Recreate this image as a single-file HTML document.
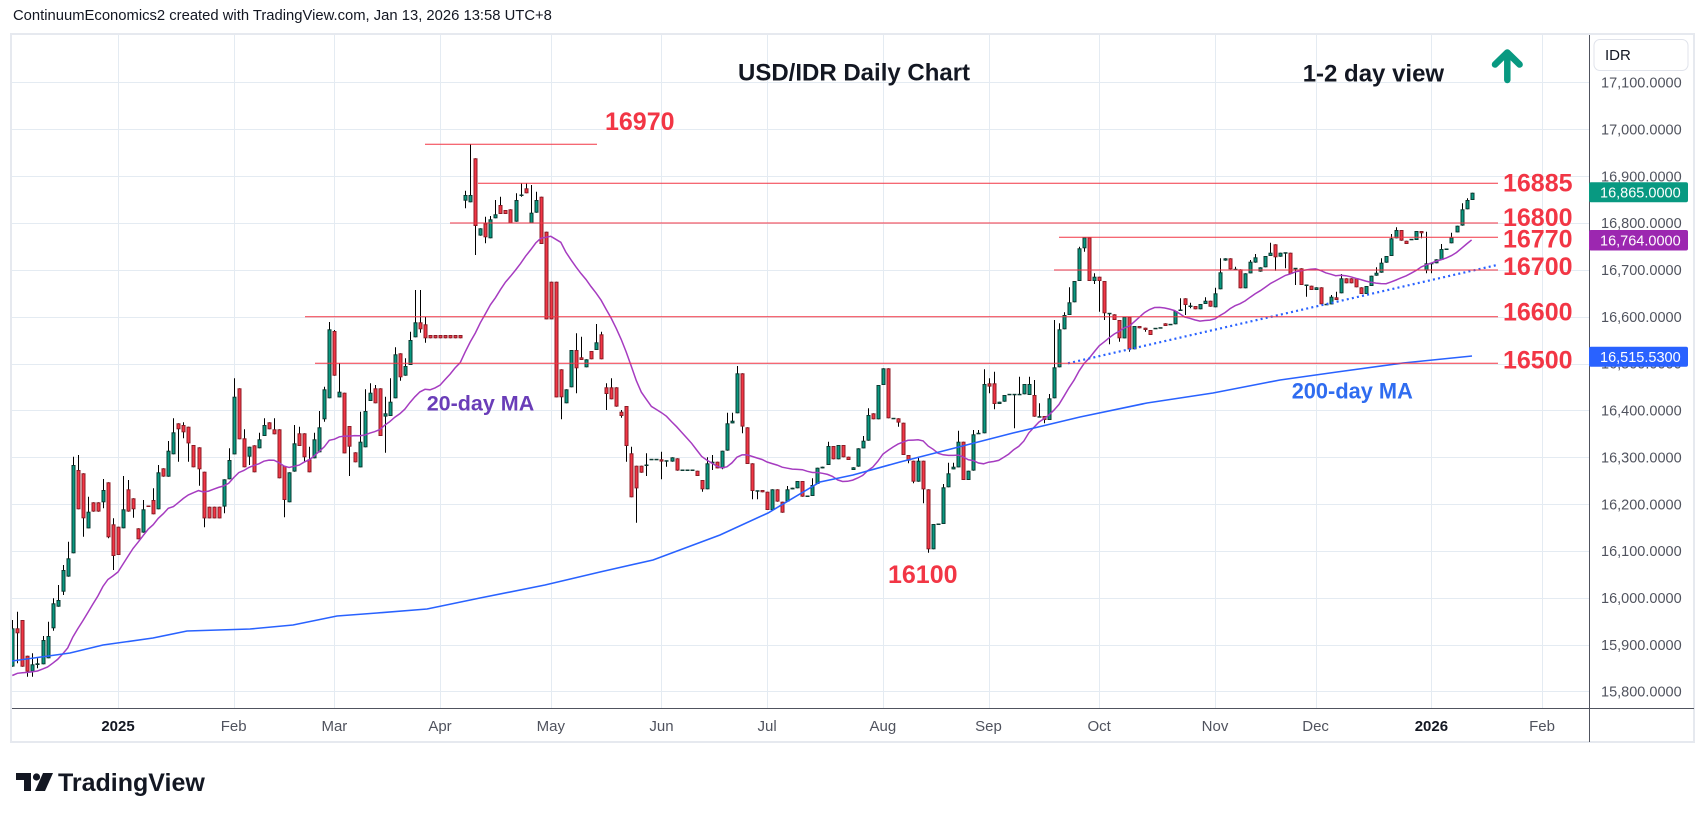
<!DOCTYPE html>
<html><head><meta charset="utf-8"><style>
html,body{margin:0;padding:0;background:#fff;}
svg{display:block;}
text{font-family:"Liberation Sans",Arial,sans-serif;}
</style></head><body>
<svg id="c" width="1707" height="818" viewBox="0 0 1707 818" xmlns="http://www.w3.org/2000/svg">
<defs><clipPath id="pc"><rect x="12" y="35" width="1577" height="673"/></clipPath></defs>
<rect width="1707" height="818" fill="#fff"/>
<text x="13" y="20" font-size="14.8" fill="#131722">ContinuumEconomics2 created with TradingView.com, Jan 13, 2026 13:58 UTC+8</text>
<rect x="11" y="34" width="1683" height="708" fill="none" stroke="#e6e9ef" stroke-width="2"/>
<g id="grid" stroke="#e4ebf2" stroke-width="1"></g>
<g id="plot" clip-path="url(#pc)"></g>
<g id="over" clip-path="url(#pc)">
<polyline fill="none" stroke="#2962ff" stroke-width="1.6" points="12,661 70,653 103,645 153,638 187,631 250,629 293,625 337,616 377,613 427,609 480,598 545,585 600,572 653,560 720,535 768,513 820,482 853,475 900,462 947,450 1013,433 1080,417 1147,403 1213,393 1280,380 1337,372 1403,363 1472,356"/>
<line x1="1068" y1="363.3" x2="1497" y2="265" stroke="#2962ff" stroke-width="2.2" stroke-dasharray="2 3.2"/>
<g stroke="#f23645" stroke-width="1">
<line x1="425" y1="144.3" x2="597" y2="144.3"/>
<line x1="478" y1="183.3" x2="1498" y2="183.3"/>
<line x1="450" y1="223" x2="1498" y2="223"/>
<line x1="1059" y1="237.3" x2="1498" y2="237.3"/>
<line x1="1054" y1="270" x2="1498" y2="270"/>
<line x1="305" y1="316.7" x2="1498" y2="316.7"/>
<line x1="315" y1="363.3" x2="1498" y2="363.3"/>
</g>
</g>
<g font-weight="bold" font-size="25" fill="#f23645">
<text x="605" y="130">16970</text>
<text x="1503" y="191.7">16885</text>
<text x="1503" y="226">16800</text>
<text x="1503" y="247.3">16770</text>
<text x="1503" y="275">16700</text>
<text x="1503" y="320.7">16600</text>
<text x="1503" y="368.3">16500</text>
<text x="888" y="583">16100</text>
</g>
<text x="426.7" y="410.5" font-weight="bold" font-size="21.5" fill="#6a3db8">20-day MA</text>
<text x="1291.7" y="398.7" font-weight="bold" font-size="21.8" fill="#2f6cf0">200-day MA</text>
<text x="738" y="80.7" font-weight="bold" font-size="24" fill="#131722">USD/IDR Daily Chart</text>
<text x="1302.7" y="81.7" font-weight="bold" font-size="24" fill="#131722">1-2 day view</text>
<g stroke="#089981" stroke-width="6.5" stroke-linecap="round" stroke-linejoin="round" fill="none">
<line x1="1507.3" y1="53" x2="1507.3" y2="80"/>
<polyline points="1495,64.5 1507.3,52.5 1519.6,64.5"/>
</g>
<line x1="1589.5" y1="35" x2="1589.5" y2="742" stroke="#50535e" stroke-width="1"/>
<line x1="12" y1="708.5" x2="1694" y2="708.5" stroke="#50535e" stroke-width="1"/>
<rect x="1594" y="39.5" width="94" height="31" rx="6" fill="#fff" stroke="#e0e3eb" stroke-width="1"/>
<text x="1605" y="60" font-size="15" fill="#131722">IDR</text>
<g id="pax" font-size="14.5" fill="#50535e"></g>
<rect x="1589" y="182.3" width="99" height="20" rx="2" fill="#089981"/>
<text x="1600" y="197.5" font-size="14.5" fill="#fff">16,865.0000</text>
<rect x="1589" y="230" width="99" height="20.5" rx="2" fill="#9c27b0"/>
<text x="1600" y="245.3" font-size="14.5" fill="#fff">16,764.0000</text>
<rect x="1589" y="346.7" width="99" height="20" rx="2" fill="#2962ff"/>
<text x="1600" y="361.8" font-size="14.5" fill="#fff">16,515.5300</text>
<g font-size="15" fill="#50535e" text-anchor="middle">
<text x="118" y="731" font-weight="bold" fill="#131722">2025</text>
<text x="233.7" y="731">Feb</text>
<text x="334.4" y="731">Mar</text>
<text x="440" y="731">Apr</text>
<text x="550.8" y="731">May</text>
<text x="661.5" y="731">Jun</text>
<text x="767.1" y="731">Jul</text>
<text x="882.9" y="731">Aug</text>
<text x="988.5" y="731">Sep</text>
<text x="1099.2" y="731">Oct</text>
<text x="1215" y="731">Nov</text>
<text x="1315.6" y="731">Dec</text>
<text x="1431.4" y="731" font-weight="bold" fill="#131722">2026</text>
<text x="1542" y="731">Feb</text>
</g>
<g fill="#131722">
<path d="M16,773 h15 v18 h-7 v-11 h-8 z"/>
<circle cx="36.5" cy="777" r="3.6"/>
<path d="M43,773 h10 l-8,18 h-10 z"/>
<text x="58" y="791" font-weight="bold" font-size="25">TradingView</text>
</g>
</svg>
<script>
(function(){
const NS="http://www.w3.org/2000/svg";
function el(tag,a,p){const e=document.createElementNS(NS,tag);for(const k in a)e.setAttribute(k,a[k]);p.appendChild(e);return e;}
const Y=p=>82.4+(17100-p)*0.4685;
const X=i=>118+5.032*i;
const grid=document.getElementById('grid');
for(let p=15800;p<=17100;p+=100){const y=Math.round(Y(p))+0.5;el('line',{x1:12,x2:1589,y1:y,y2:y},grid);}
[0,23,43,64,86,108,129,152,173,195,218,238,261,283].forEach(i=>{const x=Math.round(X(i))+0.5;el('line',{x1:x,x2:x,y1:35,y2:708},grid);});
const pax=document.getElementById('pax');
for(let p=15800;p<=17100;p+=100){const s=p.toString();const lab=s.slice(0,2)+','+s.slice(2)+'.0000';const t=el('text',{x:1601,y:(Y(p)+5.2).toFixed(1)},pax);t.textContent=lab;}
const A=[[12,1105,1220,1,1080,1220],[25,1105,1120,0,1055,1210],[40,1080,1220,0,1080,1220],[55,1187,1235,0,1187,1250],[70,1213,1235,1,1180,1250],[85,1210,1215,1,1195,1225],[100,1140,1213,1,1128,1213],[118,1128,1195,1,1085,1195],[133,1030,1105,1,1015,1112],[148,1020,1040,1,975,1040],
[163,930,995,1,915,1005],[178,895,950,1,845,950],[193,615,880,1,590,880],[208,630,748,0,585,748],[223,640,775,0,640,830],[238,755,805,1,710,805],[253,727,755,0],[268,727,755,0],[283,690,727,1,657,745],[298,667,832,0,667,835],
[313,793,888,0,775,930],[328,800,885,0],[343,748,805,1,648,805],[358,688,755,0,660,755],[373,715,748,0,715,773],[388,805,838,0],[403,748,818,1,720,818],[418,738,740,0],[433,720,763,0,685,763],[448,637,748,1,615,748],
[463,625,650,0],[478,572,650,1,543,650],[493,517,583,1,475,583],[508,490,508,0,490,605],[523,495,517,0,487,535],[538,500,550,0,500,605],[553,555,622,0],[568,562,628,0,562,677],[583,635,775,0,635,802],[598,740,775,0],
[613,740,775,0],[630,740,775,0],[646,658,740,1,658,760],[662,600,658,1,565,658],[676,410,583,1,355,583],[691,385,538,0],[706,535,622,0,508,622],[721,560,590,1,560,615],[736,556,637,0],[751,538,565,1,518,565],
[766,495,528,1,475,528],[781,487,508,0],[796,508,523,0,475,523],[811,508,655,0],[826,618,720,0,618,772],[841,637,727,1],[856,550,635,1,495,635],[871,520,558,0,500,558],[886,520,592,0,520,605],[901,598,637,0,560,637],
[916,538,595,1,518,595],[931,502,577,1,453,577],[946,388,478,1,380,485],[961,208,415,1,186,415],[976,213,347,0,210,347],[991,395,412,1,310,412],[1006,398,580,0],[1021,498,560,0,498,648],[1036,577,607,0],[1051,545,622,1,455,622],
[1066,453,562,1,388,562],[1081,398,423,1,370,423],[1096,385,430,0,375,430],[1111,385,528,0],[1129,460,470,1,410,578],[1144,425,468,1,355,468],[1159,283,415,1,262,415],[1174,280,352,0,280,362],[1189,318,347,1,295,347],[1204,240,315,1,215,315],
[1219,187,232,1,90,232],[1234,187,208,0,90,218]];
const B=[[20,613,655,0,590,668],[35,645,655,0],[50,645,655,0],[65,645,655,0],[80,645,655,0],[95,645,655,0],[110,645,655,0],[125,645,655,0],
[140,225,242,1,212,265],[155,225,247,1,72,247],[170,115,318,0,115,405],[185,325,347,1],[200,310,352,0,290,370],[214,298,355,1,288,355],[229,283,295,1,240,295],[244,255,282,0,230,282],[259,270,282,0],[274,268,310,0],[289,240,305,1,220,305],[304,225,227,1,190,230],[319,205,220,0,190,220],[334,278,310,1,195,310],[349,240,278,1,215,278],[364,230,372,0],
[379,335,598,0],[397,485,598,0],[412,485,832,0],[428,748,832,0,748,898],[443,808,850,1],[458,690,802,1],[472,690,745,0,640,820],[487,712,720,0,650,720],[502,718,742,1],[517,693,718,0],[532,667,690,1,612,690],[547,643,718,0,635,718],
[562,802,822,0,790,870],[577,802,838,0,775,838],[592,802,860,0],[607,875,888,0,870,893],[622,858,978,0,858,1025],[637,1000,1132,0,980,1132],[652,1037,1105,0,1037,1208],[667,1037,1058,0],[682,1035,1036,1,1000,1068],
[697,1018,1019,1],[712,1018,1019,1],[727,1018,1025,0,995,1078],[742,1022,1023,1,1022,1040],[757,1012,1025,1],[772,1015,1052,0],[787,1050,1051,1],[802,1050,1051,1],[817,1050,1051,1],[832,1052,1068,0],[847,1080,1108,0,1080,1115],[862,1030,1108,1,1012,1108],[877,1025,1030,1,1005,1050],
[895,1025,1045,0],[910,992,1045,1,992,1048],[925,910,992,1,878,992],[940,902,910,1,878,910],[955,760,880,1,738,880],[970,760,920,0,760,940],[985,922,1032,0],[1000,1030,1113,0,1030,1138],[1015,1112,1113,1,1112,1138],[1030,1110,1117,0],[1045,1115,1170,0],[1060,1108,1170,1],[1075,1108,1145,0],[1090,1145,1178,0],[1105,1108,1145,1,1098,1145],[1120,1103,1108,1],[1135,1083,1105,1],[1150,1083,1130,0],[1165,1128,1129,1],[1180,1095,1128,1,1075,1128],[1195,1043,1092,1],[1210,1040,1045,1],[1225,978,1035,1,965,1035],[1240,978,1018,0],[1255,975,1018,1],[1270,975,1012,0],[1285,1010,1020,0],[1300,1042,1050,1],[1315,985,1040,1],[1330,962,985,1,948,985],[1345,885,962,1,865,962],[1360,880,898,0],[1375,795,898,1],[1390,745,795,1]];
const C=[[28,565,715,0],[42,715,716,1],[58,715,728,0,715,740],[73,728,825,0],[88,825,842,0,825,850],[103,842,905,0,842,910],[118,842,905,1,830,905],[133,842,928,0,842,970],[148,928,1108,0,928,1118],[163,1032,1108,1],
[178,1032,1033,1],[193,922,1032,1,912,1032],[208,880,922,1,848,922],[223,860,868,1,848,868],[238,785,862,1,752,862],[253,785,900,0],[268,872,900,1],[283,763,872,1,750,872],[298,760,761,1,750,761],[313,612,760,1,568,760],
[328,610,620,0,595,640],[343,610,672,0,575,688],[358,665,672,1],[373,645,665,1],[388,643,644,1],[403,643,644,1,643,745],[418,643,644,1,590,644],[433,612,643,1],[448,612,645,1,590,645],[463,645,710,0,600,710],
[478,710,711,1,670,711],[493,708,720,0,708,730],[508,655,720,1,642,720],[525,562,655,1,420,655],[540,448,562,1,430,562],[555,405,448,1,397,448],[570,367,405,1,322,405],[585,303,367,1],[600,205,303,1,200,303],[615,172,205,1,172,215],
[630,172,303,0],[645,290,303,1,280,312],[660,290,303,0,290,395],[675,303,400,0,303,420],[690,400,401,1,400,493],[705,403,420,0],[720,420,475,0,420,485],[735,410,475,1],[750,410,508,0,410,515],[765,438,508,1],
[780,438,445,0],[795,443,450,0,443,455],[810,450,465,0],[825,445,446,1],[840,443,444,1],[855,430,438,0],[870,433,434,1],[885,393,433,1],[900,390,391,1,355,391],[915,355,375,0,355,405],
[930,378,379,1,368,385],[945,378,388,0],[960,372,388,1],[975,362,372,1,352,372],[990,362,380,0],[1005,340,382,1,323,382],[1024,277,328,1,235,328],[1040,235,242,1],[1055,235,268,0],[1070,268,269,1,260,269],
[1085,268,325,0],[1100,280,325,1],[1115,245,280,1,240,280],[1130,232,248,1,222,248],[1145,262,275,1],[1160,228,262,1],[1175,218,228,1,188,228],[1190,193,232,0,193,272]];
const D=[[33,308,320,1],[48,308,309,1,308,355],[63,308,372,0],[78,355,356,1,355,405],[93,355,405,0],[108,405,406,1,405,440],[123,407,420,0],[138,412,420,1],[153,412,463,0],[168,463,464,1],
[183,440,463,1,435,463],[198,442,450,0,425,450],[213,385,430,1,372,430],[228,385,400,0],[243,385,400,0],[258,385,412,0],[273,412,432,0],[288,408,432,1],[303,377,408,1],[318,368,377,1,352,377],
[333,338,368,1,325,368],[350,318,338,1],[365,265,318,1,252,318],[380,240,265,1,232,265],[395,240,272,0],[410,272,282,0],[425,268,269,1],[440,243,270,1],[455,243,250,0,243,265],[470,340,362,1,245,370],
[485,340,341,1,340,370],[500,328,340,1],[515,297,330,1,282,330],[530,297,298,1],[545,262,280,1,248,280],[560,227,247,1],[575,178,227,1,160,227],[590,150,178,1,145,178],[607,128,150,1]];
const segs=[{s:-21,oy:260,d:A},{s:61,oy:120,d:B},{s:153,oy:180,d:C},{s:231,oy:150,d:D}];
const bars=[];
segs.forEach(sg=>sg.d.forEach((e,k)=>{const i=sg.s+k,t=e[1]/3+sg.oy,b=e[2]/3+sg.oy;let wt=t,wb=b;if(e.length>4){wt=Math.min(t,e[4]/3+sg.oy);wb=Math.max(b,e[5]/3+sg.oy);}bars.push({i:i,t:t,b:b,g:e[3],wt:wt,wb:wb});}));
const plot=document.getElementById('plot');
const cg=el('g',{},plot);
bars.forEach(o=>{const cx=Math.round(X(o.i))+0.5;
 if(o.wb-o.wt>0.6) el('line',{x1:cx,x2:cx,y1:o.wt.toFixed(1),y2:o.wb.toFixed(1),stroke:'#000','stroke-width':1},cg);
 const fill=o.g?'#089981':'#f23645',st=o.g?'#0b3a31':'#8c1c26';
 const h=o.b-o.t;
 if(h<1.6){el('rect',{x:cx-2,y:(o.t-0.5).toFixed(1),width:4,height:1.5,fill:st},cg);}
 else el('rect',{x:cx-1.5,y:(o.t+0.5).toFixed(1),width:3,height:(h-1).toFixed(1),fill:fill,stroke:st,'stroke-width':1},cg);
});
const cl={};bars.forEach(o=>cl[o.i]=o.g?o.t:o.b);
const pts=[];
for(let i=-21;i<=269;i++){let s=0;for(let j=i-19;j<=i;j++)s+=(cl[j]!==undefined?cl[j]:678);pts.push(X(i).toFixed(1)+','+(s/20).toFixed(1));}
el('polyline',{points:pts.join(' '),fill:'none',stroke:'#a63cc0','stroke-width':1.5},plot);
})();
</script>
</body></html>
